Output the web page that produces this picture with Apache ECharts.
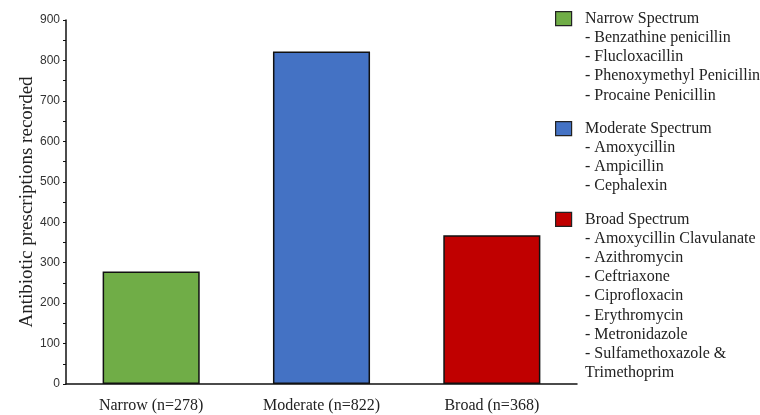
<!DOCTYPE html>
<html><head><meta charset="utf-8">
<script src="https://cdn.jsdelivr.net/npm/echarts@6/dist/echarts.min.js"></script>
<style>html,body{margin:0;padding:0;background:#fff}#c{width:760px;height:415px}</style>
</head><body><div id="c"></div>
<script>
var categories = ['Narrow (n=278)', 'Moderate (n=822)', 'Broad (n=368)'];
var values = [278, 822, 368];
var colors = ['#70AD47', '#4472C4', '#C00000'];
var yTicks = [0, 100, 200, 300, 400, 500, 600, 700, 800, 900];
var groupTitles = ['Narrow Spectrum', 'Moderate Spectrum', 'Broad Spectrum'];
var narrowDrugs = ['Benzathine penicillin', 'Flucloxacillin', 'Phenoxymethyl Penicillin', 'Procaine Penicillin'];
var moderateDrugs = ['Amoxycillin', 'Ampicillin', 'Cephalexin'];
var broadDrugs = ['Amoxycillin Clavulanate', 'Azithromycin', 'Ceftriaxone', 'Ciprofloxacin', 'Erythromycin', 'Metronidazole', 'Sulfamethoxazole & Trimethoprim'];

var serif = '"Liberation Serif", "Times New Roman", serif';
var chart = echarts.init(document.getElementById('c'));

var groups = [narrowDrugs, moderateDrugs, broadDrugs];
var graphics = [];
var y = 18, lh = 19.2;
groups.forEach(function (drugs, gi) {
  graphics.push({
    type: 'rect', left: 555, top: y - 7,
    shape: { width: 16, height: 14 },
    style: { fill: colors[gi], stroke: '#222', lineWidth: 1.2 }
  });
  var lines = [groupTitles[gi]].concat(drugs.map(function (d) { return '- ' + d; }));
  graphics.push({
    type: 'text', left: 585, top: y - 9,
    style: {
      text: lines.join('\n'), font: '16px ' + serif, fill: '#222',
      lineHeight: lh, width: 200, overflow: 'break'
    }
  });
  var extra = drugs.some(function (d) { return d.length > 26; }) ? 1 : 0;
  y += (lines.length + extra) * lh + 14;
});

chart.setOption({
  animation: false,
  grid: { left: 66, right: 183, top: 20, bottom: 31, containLabel: false },
  xAxis: {
    type: 'category', data: categories,
    axisLine: { lineStyle: { color: '#111', width: 1.5 } },
    axisTick: { show: false },
    axisLabel: { fontFamily: serif, fontSize: 16, color: '#222', margin: 14 }
  },
  yAxis: {
    type: 'value', min: yTicks[0], max: yTicks[yTicks.length - 1], interval: 100,
    name: 'Antibiotic prescriptions recorded', nameLocation: 'middle', nameGap: 29,
    nameMoveOverlap: false,
    nameTextStyle: { fontFamily: serif, fontSize: 19, color: '#222' },
    axisLine: { show: true, lineStyle: { color: '#111', width: 1.5 } },
    axisTick: { show: true, length: 3, lineStyle: { color: '#111' } },
    minorTick: { show: true, splitNumber: 2, length: 3, lineStyle: { color: '#111' } },
    splitLine: { show: false },
    axisLabel: { fontFamily: '"Liberation Sans", Arial, sans-serif', fontSize: 12, color: '#333', margin: 6 }
  },
  series: [{
    type: 'bar', barWidth: '57%',
    data: values.map(function (v, i) {
      return { value: v, itemStyle: { color: colors[i], borderColor: '#111', borderWidth: 1.5 } };
    })
  }],
  graphic: graphics
});
</script></body></html>
